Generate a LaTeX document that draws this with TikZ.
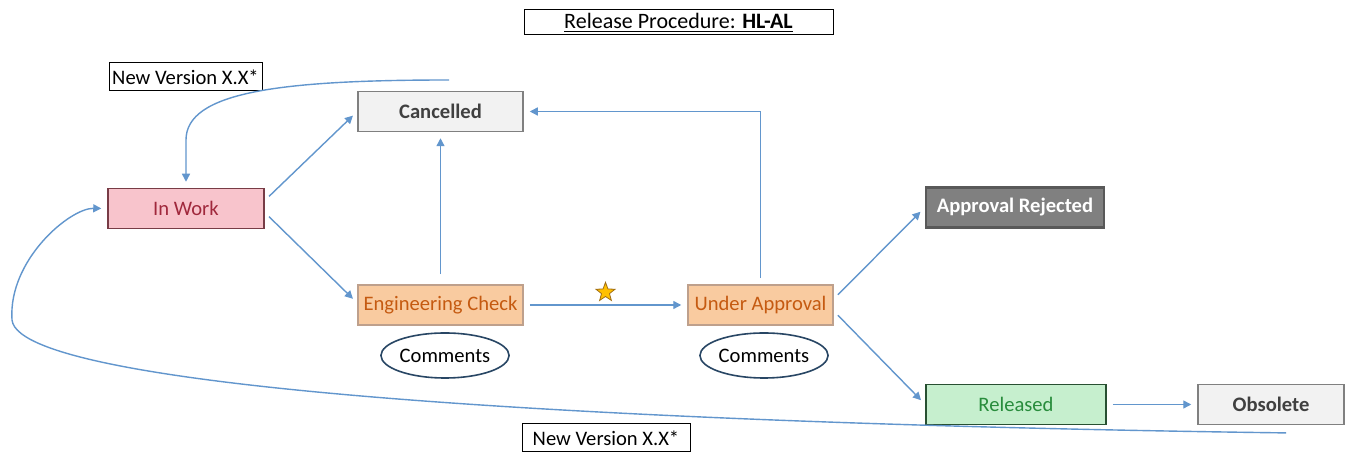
\documentclass[tikz,border=0pt]{standalone}
\usepackage{fontspec}
\setmainfont{Carlito}
\usepackage{xcolor}
\usepackage{tikz}
\usetikzlibrary{arrows.meta, positioning}
\usetikzlibrary{shapes.geometric}

\definecolor{flowblue}{RGB}{98,150,205}
\definecolor{commentblue}{RGB}{40,70,100}
\definecolor{workfill}{RGB}{248,196,204}
\definecolor{workdraw}{RGB}{120,60,70}
\definecolor{worktext}{RGB}{160,40,60}
\definecolor{checkfill}{RGB}{249,203,160}
\definecolor{checkdraw}{RGB}{190,160,140}
\definecolor{checktext}{RGB}{197,90,17}
\definecolor{greyfill}{RGB}{242,242,242}
\definecolor{greydraw}{RGB}{128,128,128}
\definecolor{greytext}{RGB}{64,64,64}
\definecolor{rejectfill}{RGB}{128,128,128}
\definecolor{rejectdraw}{RGB}{89,89,89}
\definecolor{releasefill}{RGB}{198,239,206}
\definecolor{releasedraw}{RGB}{40,80,50}
\definecolor{releasetext}{RGB}{40,140,60}
\definecolor{stargold}{RGB}{255,192,0}
\definecolor{stardraw}{RGB}{160,110,20}

\begin{document}
\begin{tikzpicture}[x=0.5pt, y=-0.5pt,
  every node/.style={font=\fontsize{10.3}{12}\selectfont},
  state/.style={draw, rectangle, line width=0.75pt, inner sep=0pt, minimum height=20pt},
  tag/.style={draw, rectangle, line width=0.5pt, inner sep=0pt, minimum height=14pt},
  remark/.style={draw=commentblue, ellipse, line width=0.8pt, inner sep=0pt,
    minimum width=62pt, minimum height=22.5pt},
  flow/.style={draw=flowblue, line width=0.7pt, -{Triangle[length=4pt, width=4pt]},
    shorten >=3pt, shorten <=3pt},
  starmark/.style={star, star points=5, star point ratio=2.4, fill=stargold,
    draw=stardraw, line width=0.4pt, minimum size=10pt, inner sep=0pt}]

  \path[fill=white, use as bounding box] (0,0) rectangle (1346,453);

  % ==== Labels ====
  \node[tag, minimum width=154.5pt, minimum height=12.5pt, font=\fontsize{11}{13}\selectfont] (title) at (678.5,22.5)
    {\underline{Release Procedure: \textbf{HL-AL}}};
  \node[tag, minimum width=76.5pt] (newtop) at (185.5,77) {New Version X.X*};
  \node[tag, minimum width=84pt] (newbot) at (606,438) {New Version X.X*};

  % ==== States ====
  \node[state, fill=greyfill, draw=greydraw, text=greytext, minimum width=82.5pt] (cancelled) at (440.5,111.5) {\textbf{Cancelled}};
  \node[state, fill=workfill, draw=workdraw, text=worktext, minimum width=78pt] (inwork) at (186,208.5) {In Work};
  \node[state, fill=checkfill, draw=checkdraw, text=checktext, minimum width=82.5pt] (engcheck) at (440.5,305) {Engineering Check};
  \node[state, fill=checkfill, draw=checkdraw, text=checktext, minimum width=72.5pt] (underappr) at (760.5,305) {Under Approval};
  \node[state, fill=rejectfill, draw=rejectdraw, text=white, line width=1.3pt, minimum width=89pt] (rejected) at (1015,207.5) {\textbf{Approval Rejected}};
  \node[state, fill=releasefill, draw=releasedraw, text=releasetext, minimum width=90pt] (released) at (1016,404.5) {Released};
  \node[state, fill=greyfill, draw=greydraw, text=greytext, minimum width=73pt] (obsolete) at (1271,404.5) {\textbf{Obsolete}};

  % Comments
  \node[remark] (comeng) at (445,355.5) {Comments};
  \node[remark] (comappr) at (764,355.5) {Comments};

  % ==== Transitions ====
  \draw[flow] ([yshift=4pt]inwork.east) -- (cancelled.west);
  \draw[flow] ([yshift=-2pt]inwork.east) -- ([yshift=1pt]engcheck.west);
  \draw[flow, shorten <=5pt] (engcheck.north) -- (cancelled.south);
  \draw[flow] (underappr.north) |- (cancelled.east);
  \draw[flow] (engcheck.east) -- (underappr.west)
    node[starmark, midway, above=4pt] (flag) {};
  \draw[flow] ([yshift=3pt]underappr.east) -- (rejected.west);
  \draw[flow] ([yshift=-3pt]underappr.east) -- (released.west);
  \draw[flow] (released.east) -- (obsolete.west);

  % new version loops back to In Work
  \coordinate (topfree) at (455,80);
  \coordinate (botfree) at (1292,433);
  \draw[flow] (topfree) .. controls (280,80) and (186,92) .. (186,140) -- (inwork.north);
  \draw[flow] (botfree) .. controls (700,425) and (20,395) .. (12,320)
    .. controls (8,260) and (70,208) .. (inwork.west);
\end{tikzpicture}
\end{document}
